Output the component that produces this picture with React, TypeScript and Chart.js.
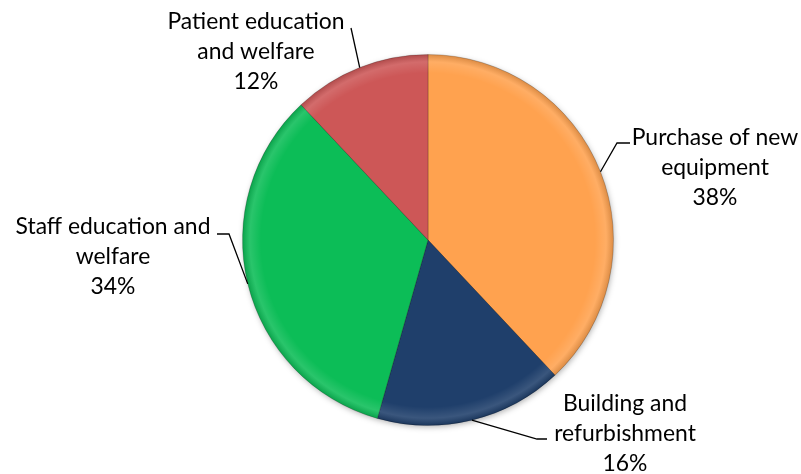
import React, { useEffect, useRef } from "react";
import { Chart, registerables } from "chart.js";
Chart.register(...registerables);

const categories = [
  "Purchase of new equipment",
  "Building and refurbishment",
  "Staff education and welfare",
  "Patient education and welfare",
];
const values = [38, 16.4, 33.6, 12];
const labelLines = [
  ["Purchase of new", "equipment"],
  ["Building and", "refurbishment"],
  ["Staff education and", "welfare"],
  ["Patient education", "and welfare"],
];
const colors = ["#FFA24F", "#1F3F6B", "#0CBD57", "#CD5757"];

// label layout: text centre x, first line centre y, leader attach point and elbow
const labelLayout = [
  { cx: 715, cy: 138, attach: [630, 143], elbow: [617, 143] },
  { cx: 625, cy: 404, attach: [547, 439], elbow: [537, 439] },
  { cx: 113, cy: 227, attach: [217, 234], elbow: [229, 234] },
  { cx: 256, cy: 22, attach: [351, 28], elbow: null as null | number[] },
];

const FONT_FAMILY = "Lato, 'Open Sans', sans-serif";

const shadowPlugin = {
  id: "pieShadow",
  beforeDatasetsDraw(chart: any) {
    const ctx = chart.ctx as CanvasRenderingContext2D;
    const arc = chart.getDatasetMeta(0).data[0] as any;
    if (!arc) return;
    ctx.save();
    ctx.shadowColor = "rgba(0,0,0,0.35)";
    ctx.shadowBlur = 6;
    ctx.shadowOffsetX = 1;
    ctx.shadowOffsetY = 2;
    ctx.fillStyle = "#888";
    ctx.beginPath();
    ctx.arc(arc.x, arc.y, arc.outerRadius - 1, 0, Math.PI * 2);
    ctx.fill();
    ctx.restore();
  },
};

const labelPlugin = {
  id: "pieLabels",
  afterDatasetsDraw(chart: any) {
    const ctx = chart.ctx as CanvasRenderingContext2D;
    const meta = chart.getDatasetMeta(0);
    const total = values.reduce((a, b) => a + b, 0);
    ctx.save();
    ctx.font = `100px ${FONT_FAMILY}`;
    const w = ctx.measureText("Patient education").width;
    const fs = Math.round(((100 * 177) / w) * 10) / 10;
    ctx.font = `${fs}px ${FONT_FAMILY}`;
    ctx.fillStyle = "#000";
    ctx.textAlign = "center";
    ctx.textBaseline = "middle";
    meta.data.forEach((arc: any, i: number) => {
      const L = labelLayout[i];
      const mid = (arc.startAngle + arc.endAngle) / 2;
      const px = arc.x + Math.cos(mid) * arc.outerRadius;
      const py = arc.y + Math.sin(mid) * arc.outerRadius;
      ctx.strokeStyle = "#000";
      ctx.lineWidth = 1.3;
      ctx.beginPath();
      ctx.moveTo(L.attach[0], L.attach[1]);
      if (L.elbow) ctx.lineTo(L.elbow[0], L.elbow[1]);
      ctx.lineTo(px, py);
      ctx.stroke();
      const lines = [...labelLines[i], `${Math.round((values[i] / total) * 100)}%`];
      lines.forEach((t, k) => ctx.fillText(t, L.cx, L.cy + k * 30));
    });
    ctx.restore();
  },
};

const bevelPlugin = {
  id: "bevel",
  afterDatasetsDraw(chart: any) {
    const ctx = chart.ctx as CanvasRenderingContext2D;
    const meta = chart.getDatasetMeta(0);
    meta.data.forEach((arc: any) => {
      const R = arc.outerRadius;
      ctx.save();
      ctx.beginPath();
      ctx.moveTo(arc.x, arc.y);
      ctx.arc(arc.x, arc.y, R, arc.startAngle, arc.endAngle);
      ctx.closePath();
      ctx.clip();
      const g = ctx.createRadialGradient(arc.x, arc.y, 0, arc.x, arc.y, R);
      g.addColorStop(0, "rgba(255,255,255,0)");
      g.addColorStop(0.9, "rgba(255,255,255,0)");
      g.addColorStop(0.96, "rgba(255,255,255,0.12)");
      g.addColorStop(1, "rgba(0,0,0,0.14)");
      ctx.fillStyle = g;
      ctx.fillRect(arc.x - R, arc.y - R, 2 * R, 2 * R);
      ctx.restore();
    });
  },
};

export default function App() {
  const ref = useRef<HTMLCanvasElement>(null);
  useEffect(() => {
    document.body.style.margin = "0";
    const chart = new Chart(ref.current!, {
      type: "pie",
      data: {
        labels: categories,
        datasets: [
          {
            data: values,
            backgroundColor: colors,
            borderColor: "rgba(0,0,0,0.2)",
            borderWidth: 1,
          },
        ],
      },
      options: {
        responsive: false,
        animation: false,
        layout: { padding: { left: 242, right: 187, top: 54, bottom: 48 } },
        plugins: { legend: { display: false }, tooltip: { enabled: false } },
      },
      plugins: [shadowPlugin, bevelPlugin, labelPlugin],
    });
    return () => chart.destroy();
  }, []);
  return (
    <div style={{ position: "absolute", left: 0, top: 0, width: 801, height: 474, background: "#fff" }}>
      <canvas ref={ref} width={801} height={474} />
    </div>
  );
}
